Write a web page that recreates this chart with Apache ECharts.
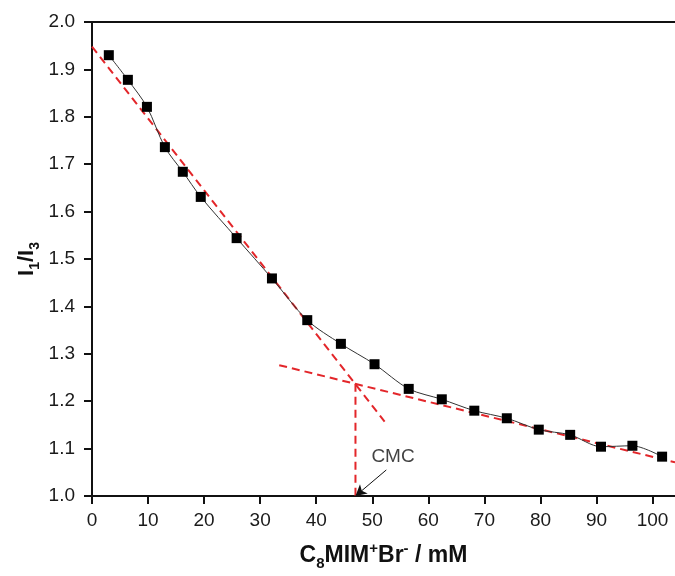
<!DOCTYPE html>
<html><head><meta charset="utf-8">
<script src="https://cdn.jsdelivr.net/npm/echarts/dist/echarts.min.js"></script>
<style>html,body{margin:0;padding:0;background:#fff}#c{width:675px;height:576px}</style>
</head><body><div id="c"></div>
<script>
// ---- data ----
const concentration = [3.0, 6.4, 9.8, 13.0, 16.2, 19.4, 25.8, 32.1, 38.4, 44.4, 50.4, 56.5, 62.4, 68.2, 74.0, 79.7, 85.3, 90.8, 96.4, 101.7];
const ratioI1I3 = [1.930, 1.878, 1.821, 1.736, 1.684, 1.631, 1.544, 1.459, 1.371, 1.321, 1.278, 1.226, 1.204, 1.180, 1.164, 1.140, 1.129, 1.104, 1.106, 1.083];
const preMicelleLine = [[0, 1.948], [52.2, 1.157]];
const postMicelleLine = [[33.4, 1.276], [104, 1.071]];
const cmcDropLine = [[47, 1.237], [47, 1.0]];
const cmcLabelPoint = [53.7, 1.083];
const cmcArrow = [[52.5, 1.055], [47, 1.0]];
const xRange = [0, 104, 10];
const yRange = [1.0, 2.0, 0.1];

const FONT = '"Liberation Sans", Arial, sans-serif';
const RED = '#e3262a';
const chart = echarts.init(document.getElementById('c'), null, {renderer: 'canvas'});
const pts = concentration.map((x, i) => [x, ratioI1I3[i]]);
const dashed = {color: RED, width: 2, type: [8, 5]};

chart.setOption({
  animation: false,
  backgroundColor: '#fff',
  grid: {left: 92, top: 22, width: 584.5, height: 474},
  xAxis: [{
    type: 'value', min: xRange[0], max: xRange[1], interval: xRange[2],
    position: 'bottom',
    axisLine: {show: true, onZero: false, lineStyle: {color: '#111', width: 2}},
    axisTick: {show: true, inside: false, length: 8, lineStyle: {color: '#111', width: 2}},
    axisLabel: {show: true, fontSize: 19, fontFamily: FONT, color: '#1a1a1a', margin: 15,
      showMaxLabel: false, formatter: v => (v % 10 === 0 ? String(v) : '')},
    splitLine: {show: false},
    name: '{b|C}{sub|8}{b|MIM}{sup|+}{b|Br}{sup|-}{b| / mM}',
    nameLocation: 'middle', nameGap: 45,
    nameTextStyle: {
      fontFamily: FONT, fontWeight: 'bold', fontSize: 23, color: '#111',
      rich: {
        b: {fontFamily: FONT, fontWeight: 'bold', fontSize: 23, color: '#111', lineHeight: 30},
        sub: {fontFamily: FONT, fontWeight: 'bold', fontSize: 15, color: '#111', lineHeight: 15, verticalAlign: 'bottom'},
        sup: {fontFamily: FONT, fontWeight: 'bold', fontSize: 15, color: '#111', lineHeight: 15, verticalAlign: 'top'}
      }
    }
  }, {
    type: 'value', min: xRange[0], max: xRange[1], position: 'top',
    axisLine: {show: true, lineStyle: {color: '#111', width: 2}},
    axisTick: {show: false}, axisLabel: {show: false}, splitLine: {show: false}
  }],
  yAxis: [{
    type: 'value', min: yRange[0], max: yRange[1], interval: yRange[2],
    axisLine: {show: true, onZero: false, lineStyle: {color: '#111', width: 2}},
    axisTick: {show: true, inside: false, length: 8, lineStyle: {color: '#111', width: 2}},
    axisLabel: {fontSize: 19, fontFamily: FONT, color: '#1a1a1a', margin: 17, formatter: v => v.toFixed(1)},
    splitLine: {show: false},
    name: '{b|I}{sub|1}{b|/I}{sub|3}',
    nameLocation: 'middle', nameGap: 50, nameRotate: 90, nameMoveOverlap: false,
    nameTextStyle: {
      fontFamily: FONT, fontWeight: 'bold', fontSize: 22, color: '#111',
      rich: {
        b: {fontFamily: FONT, fontWeight: 'bold', fontSize: 22, color: '#111', lineHeight: 30},
        sub: {fontFamily: FONT, fontWeight: 'bold', fontSize: 14, color: '#111', lineHeight: 15, verticalAlign: 'bottom'}
      }
    }
  }],
  series: [
    {type: 'line', data: preMicelleLine, symbol: 'none', lineStyle: dashed, z: 3, silent: true},
    {type: 'line', data: postMicelleLine, symbol: 'none', lineStyle: dashed, z: 3, silent: true},
    {type: 'line', data: cmcDropLine, symbol: 'none', lineStyle: dashed, z: 3, silent: true},
    {type: 'line', data: pts, smooth: 0.3, symbol: 'rect', symbolSize: 10, showAllSymbol: true,
     itemStyle: {color: '#000'}, lineStyle: {color: '#333', width: 1}, z: 4},
    {type: 'scatter', data: [cmcLabelPoint], symbolSize: 0, z: 5, silent: true,
     label: {show: true, position: 'inside', formatter: 'CMC', fontSize: 19, fontFamily: FONT, color: '#111'},
     markLine: {silent: true, symbol: ['none', 'arrow'], symbolSize: [9, 11],
       lineStyle: {color: '#111', width: 1, type: 'solid'}, label: {show: false},
       data: [[{coord: cmcArrow[0]}, {coord: cmcArrow[1]}]]}}
  ]
});
</script></body></html>
